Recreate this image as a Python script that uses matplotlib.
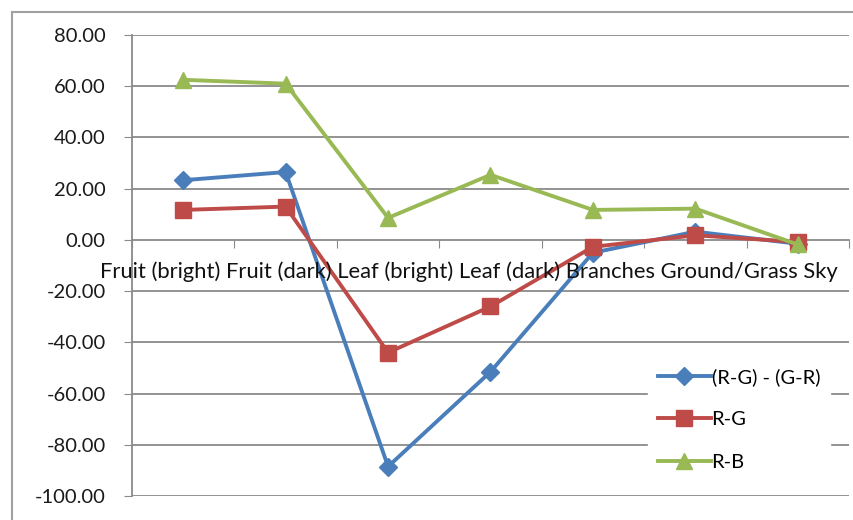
import matplotlib.pyplot as plt
from matplotlib.lines import Line2D
from matplotlib.patches import Rectangle

categories = ["Fruit (bright)", "Fruit (dark)", "Leaf (bright)", "Leaf (dark)",
              "Branches", "Ground/Grass", "Sky"]
diff_rg_gr = [23.3, 26.5, -88.5, -51.5, -5.0, 3.2, -1.5]
r_minus_g = [11.7, 13.0, -44.0, -26.0, -2.7, 1.8, -0.8]
r_minus_b = [62.5, 61.0, 8.6, 25.4, 11.7, 12.2, -1.8]
series_names = ["(R-G) - (G-R)", "R-G", "R-B"]

plt.rcParams['font.family'] = ['Lato', 'DejaVu Sans']

fig = plt.figure(figsize=(8.54, 5.20), dpi=100)
fig.patches.append(Rectangle((12/854, -0.1), 1.0, 1 - 12/520 + 0.1, transform=fig.transFigure,
                             fill=False, edgecolor='#a0a0a0', linewidth=1.5))
ax = fig.add_axes([132/854, 1 - 496/520, (849 - 132)/854, (496 - 35)/520])

x = list(range(1, len(categories) + 1))
colors = ['#4a7ebb', '#be4b48', '#98b954']
markers = ['D', 's', '^']
msizes = [9, 11, 11]
for vals, c, m, ms, name in zip([diff_rg_gr, r_minus_g, r_minus_b], colors, markers, msizes, series_names):
    ax.plot(x, vals, color=c, marker=m, ms=ms, lw=2.8, label=name, zorder=3)

ax.set_xlim(0.5, len(categories) + 0.5)
ax.set_ylim(-100, 80)
yt = list(range(-100, 81, 20))
ax.set_yticks(yt)
ax.set_yticklabels([f"{v:.2f}" for v in yt], fontsize=14.5, color='#1a1a1a')
for v in yt:
    if v != 0:
        ax.axhline(v, color='#8a8a8a', lw=1.3, zorder=1)

ax.spines['top'].set_visible(False)
ax.spines['right'].set_visible(False)
ax.spines['bottom'].set_position(('data', 0))
ax.spines['bottom'].set_color('#8a8a8a')
ax.spines['bottom'].set_linewidth(1.3)
ax.spines['left'].set_color('#8a8a8a')
ax.spines['left'].set_linewidth(1.3)

ax.set_xticks([i + 0.5 for i in range(len(categories) + 1)])
ax.set_xticklabels([])
ax.tick_params(axis='x', which='major', direction='out', length=6, color='#8a8a8a')
ax.tick_params(axis='y', direction='out', length=6, color='#8a8a8a', pad=13)

# category labels run together as one line, as in the source chart
cat_text = fig.text(100/854, 1 - 272/520, " ".join(categories), ha='left', va='center',
                    fontsize=16, color='#111111', zorder=5)
fig.canvas.draw()
w = cat_text.get_window_extent().width
cat_text.set_fontsize(16 * 744 / w)

handles = [Line2D([0], [0], color=c, marker=m, ms=ms, lw=2.8) for c, m, ms in zip(colors, markers, msizes)]
leg = ax.legend(handles, series_names, loc='upper left', bbox_to_anchor=(638/854, 1 - 348/520),
                bbox_transform=fig.transFigure, frameon=True, fontsize=14.5, labelspacing=1.25,
                handlelength=2.6, handletextpad=0.05, borderpad=0.5)
leg.get_frame().set_edgecolor('white')
leg.get_frame().set_facecolor('white')
leg.get_frame().set_alpha(1)

fig.savefig('out.png', dpi=100)
